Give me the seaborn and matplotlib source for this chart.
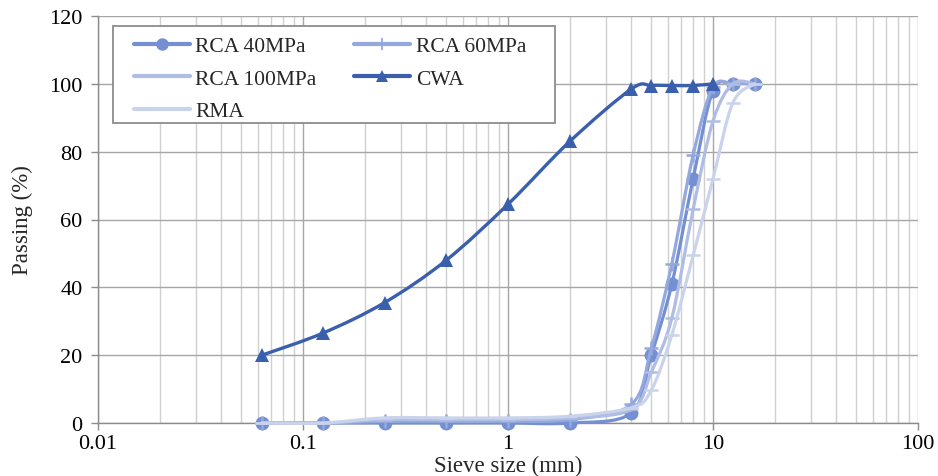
import numpy as np
import pandas as pd
import matplotlib
matplotlib.use("Agg")
import matplotlib.pyplot as plt
from matplotlib.path import Path
from matplotlib.patches import PathPatch, Rectangle
from matplotlib.lines import Line2D
from matplotlib.ticker import LogLocator, FixedLocator, NullFormatter
import seaborn as sns

# ---- data ----
sieve = [0.063, 0.125, 0.25, 0.5, 1, 2, 4, 5, 6.3, 8, 10, 12.5, 16]
rca40 = [0, 0, 0, 0, 0, 0, 3, 20, 41, 72, 98, 100, 100]
rca60 = [0, 0, 0.5, 0.5, 0.5, 1, 5.5, 22, 47, 79, 99, 100, 100]
rca100 = [0, 0, 1, 1, 1, 1.5, 4, 15, 31, 63, 89, 100, 100]
cwa_sieve = [0.063, 0.125, 0.25, 0.5, 1, 2, 4, 5, 6.3, 8, 10]
cwa = [20, 26.5, 35.5, 48, 64.5, 83, 98.5, 99.5, 99.5, 99.5, 100]
rma = [0, 0, 1.5, 1.5, 1.5, 2, 4.5, 9.7, 26, 49.4, 72, 94.4, 100]

series_names = ["RCA 40MPa", "RCA 60MPa", "RCA 100MPa", "CWA", "RMA"]
colors = {"RCA 40MPa": "#7490D2", "RCA 60MPa": "#93A8DD", "RCA 100MPa": "#AFBDE4",
          "CWA": "#3A60AD", "RMA": "#CAD3EC"}
markers = {"RCA 40MPa": "o", "RCA 60MPa": "+", "RCA 100MPa": "_", "CWA": "^", "RMA": "_"}
msizes = {"RCA 40MPa": 10, "RCA 60MPa": 10, "RCA 100MPa": 10, "CWA": 10, "RMA": 10}
lws = {"RCA 40MPa": 2.3, "RCA 60MPa": 2.3, "RCA 100MPa": 2.3, "CWA": 2.4, "RMA": 2.3}

data = {"RCA 40MPa": (sieve, rca40), "RCA 60MPa": (sieve, rca60),
        "RCA 100MPa": (sieve, rca100), "CWA": (cwa_sieve, cwa), "RMA": (sieve, rma)}

sns.set_theme(style="white")
plt.rcParams['font.family'] = ['Liberation Serif', 'DejaVu Serif']

W, H = 938, 477
fig = plt.figure(figsize=(W / 100, H / 100), dpi=100)
ax = fig.add_axes([98 / W, 1 - 424 / H, (918 - 98) / W, (424 - 17) / H])
ax.set_xscale("log")
ax.set_xlim(0.01, 100)
ax.set_ylim(0, 120)


def smooth_path(xs, ys):
    # spreadsheet-style smoothed line (Catmull-Rom -> cubic Bezier) in log-x space
    lx = np.log10(np.asarray(xs, float))
    y = np.asarray(ys, float)
    P = np.column_stack([lx, y])
    n = len(P)
    verts = [P[0]]
    codes = [Path.MOVETO]
    for i in range(n - 1):
        p0 = P[i - 1] if i > 0 else P[i]
        p1 = P[i]
        p2 = P[i + 1]
        p3 = P[i + 2] if i + 2 < n else P[i + 1]
        c1 = p1 + (p2 - p0) / 6.0
        c2 = p2 - (p3 - p1) / 6.0
        verts += [c1, c2, p2]
        codes += [Path.CURVE4] * 3
    V = np.array(verts)
    V[:, 0] = 10 ** V[:, 0]
    return Path(V, codes)


for z, name in enumerate(series_names):
    xs, ys = data[name]
    patch = PathPatch(smooth_path(xs, ys), facecolor="none", edgecolor=colors[name],
                      lw=lws[name], zorder=3 + z, capstyle="round", joinstyle="round",
                      clip_on=False)
    ax.add_patch(patch)
    df = pd.DataFrame({"x": xs, "y": ys})
    mk = markers[name]
    kw = dict(marker=mk, markersize=msizes[name], color=colors[name], linestyle="none",
              ax=ax, zorder=3.5 + z, legend=False, markeredgecolor=colors[name],
              markerfacecolor=colors[name], clip_on=False)
    if mk in ("+", "_"):
        kw.update(markeredgewidth=1.8)
    else:
        kw.update(markeredgewidth=0)
    sns.lineplot(data=df, x="x", y="y", **kw)

# grid & ticks
ax.xaxis.set_minor_locator(LogLocator(base=10, subs=np.arange(2, 10), numticks=20))
ax.xaxis.set_minor_formatter(NullFormatter())
ax.set_xticks([0.01, 0.1, 1, 10, 100])
ax.set_xticklabels(["0.01", "0.1", "1", "10", "100"])
ax.yaxis.set_major_locator(FixedLocator([0, 20, 40, 60, 80, 100, 120]))
ax.grid(which="major", axis="both", color="#A6A6A6", lw=1.0, zorder=0)
ax.grid(which="minor", axis="x", color="#D0D0D0", lw=1.0, zorder=0)
ax.set_axisbelow(True)
for s in ax.spines.values():
    s.set_color("#8C8C8C")
    s.set_linewidth(1.0)
ax.spines["top"].set_visible(False)
ax.spines["right"].set_visible(False)
ax.tick_params(axis="both", which="major", direction="out", length=5, color="#8C8C8C",
               labelsize=16, labelcolor="black", bottom=True, left=True, width=1.0)
ax.tick_params(axis="x", which="minor", length=0)
ax.tick_params(axis="x", pad=3)
ax.tick_params(axis="y", pad=6)

ax.set_xlabel("Sieve size (mm)", fontsize=16.5, labelpad=1)
ax.set_ylabel("Passing (%)", fontsize=16.5, labelpad=12)

# legend
handles = {}
for name in series_names:
    mk = markers[name]
    if mk == "_":
        h = Line2D([], [], color=colors[name], lw=3.0)
    elif mk == "+":
        h = Line2D([], [], color=colors[name], lw=3.0, marker="|",
                   markersize=9, markeredgewidth=1.3)
    else:
        h = Line2D([], [], color=colors[name], lw=3.0, marker=mk,
                   markersize=9, markeredgewidth=0)
    handles[name] = h
order = ["RCA 40MPa", "RCA 100MPa", "RMA", "RCA 60MPa", "CWA"]
leg = fig.legend([handles[n] for n in order], order, loc="upper left",
                 bbox_to_anchor=(134 / W, 1 - 37 / H), ncol=2, frameon=False,
                 fontsize=15.5, handlelength=2.6, columnspacing=1.75, labelspacing=0.58,
                 borderpad=0, handletextpad=0.25, borderaxespad=0)
leg.set_zorder(20)
fig.patches.append(Rectangle((113 / W, 1 - 124 / H), (555 - 113) / W, (124 - 27) / H,
                             transform=fig.transFigure, facecolor="white",
                             edgecolor="#8C8C8C", lw=1.3, zorder=19))

fig.savefig("out.png", dpi=100)
